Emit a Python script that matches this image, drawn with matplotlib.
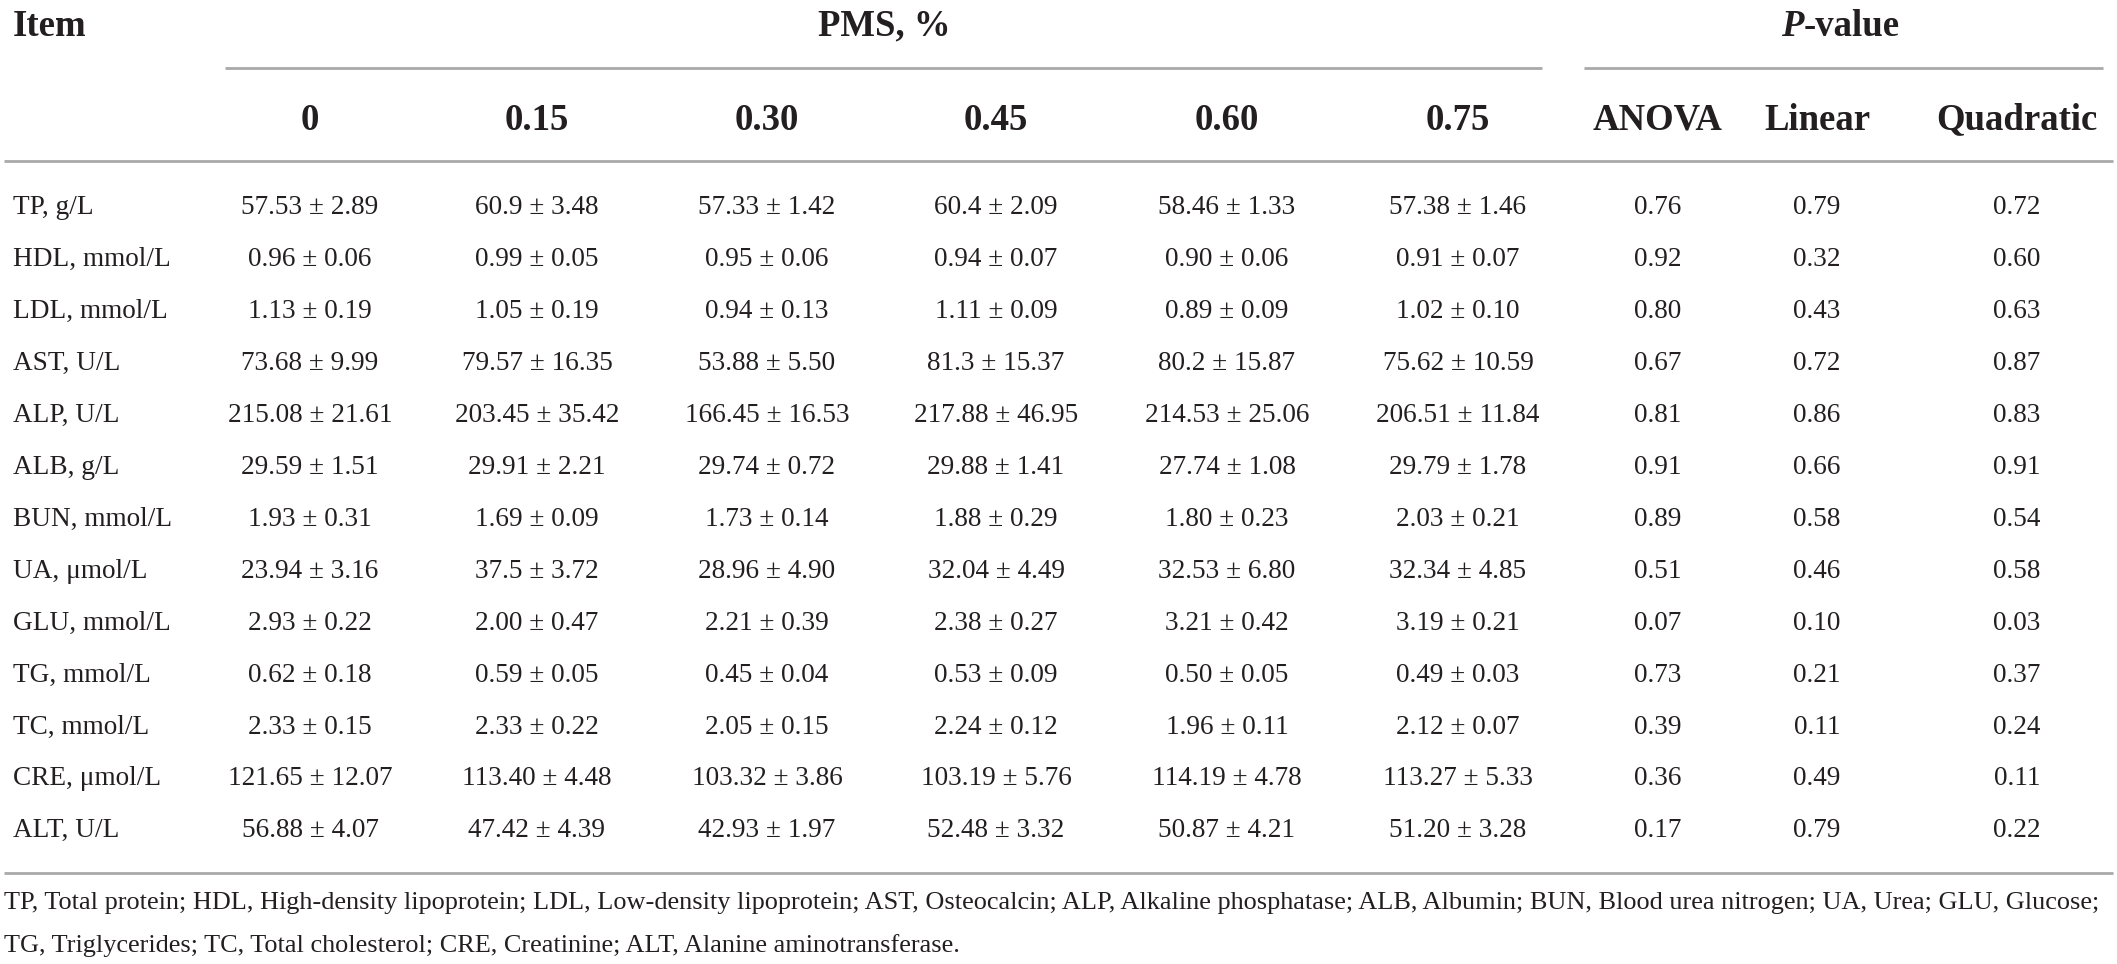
import matplotlib
matplotlib.use("Agg")
import matplotlib.pyplot as plt

# ---------------- data ----------------
items = ["TP, g/L", "HDL, mmol/L", "LDL, mmol/L", "AST, U/L", "ALP, U/L", "ALB, g/L",
         "BUN, mmol/L", "UA, \u03bcmol/L", "GLU, mmol/L", "TG, mmol/L", "TC, mmol/L",
         "CRE, \u03bcmol/L", "ALT, U/L"]
pms_levels = ["0", "0.15", "0.30", "0.45", "0.60", "0.75"]
pvalue_tests = ["ANOVA", "Linear", "Quadratic"]

mean_0    = ["57.53", "0.96", "1.13", "73.68", "215.08", "29.59", "1.93", "23.94", "2.93", "0.62", "2.33", "121.65", "56.88"]
sd_0      = ["2.89", "0.06", "0.19", "9.99", "21.61", "1.51", "0.31", "3.16", "0.22", "0.18", "0.15", "12.07", "4.07"]
mean_015  = ["60.9", "0.99", "1.05", "79.57", "203.45", "29.91", "1.69", "37.5", "2.00", "0.59", "2.33", "113.40", "47.42"]
sd_015    = ["3.48", "0.05", "0.19", "16.35", "35.42", "2.21", "0.09", "3.72", "0.47", "0.05", "0.22", "4.48", "4.39"]
mean_030  = ["57.33", "0.95", "0.94", "53.88", "166.45", "29.74", "1.73", "28.96", "2.21", "0.45", "2.05", "103.32", "42.93"]
sd_030    = ["1.42", "0.06", "0.13", "5.50", "16.53", "0.72", "0.14", "4.90", "0.39", "0.04", "0.15", "3.86", "1.97"]
mean_045  = ["60.4", "0.94", "1.11", "81.3", "217.88", "29.88", "1.88", "32.04", "2.38", "0.53", "2.24", "103.19", "52.48"]
sd_045    = ["2.09", "0.07", "0.09", "15.37", "46.95", "1.41", "0.29", "4.49", "0.27", "0.09", "0.12", "5.76", "3.32"]
mean_060  = ["58.46", "0.90", "0.89", "80.2", "214.53", "27.74", "1.80", "32.53", "3.21", "0.50", "1.96", "114.19", "50.87"]
sd_060    = ["1.33", "0.06", "0.09", "15.87", "25.06", "1.08", "0.23", "6.80", "0.42", "0.05", "0.11", "4.78", "4.21"]
mean_075  = ["57.38", "0.91", "1.02", "75.62", "206.51", "29.79", "2.03", "32.34", "3.19", "0.49", "2.12", "113.27", "51.20"]
sd_075    = ["1.46", "0.07", "0.10", "10.59", "11.84", "1.78", "0.21", "4.85", "0.21", "0.03", "0.07", "5.33", "3.28"]

p_anova     = ["0.76", "0.92", "0.80", "0.67", "0.81", "0.91", "0.89", "0.51", "0.07", "0.73", "0.39", "0.36", "0.17"]
p_linear    = ["0.79", "0.32", "0.43", "0.72", "0.86", "0.66", "0.58", "0.46", "0.10", "0.21", "0.11", "0.49", "0.79"]
p_quadratic = ["0.72", "0.60", "0.63", "0.87", "0.83", "0.91", "0.54", "0.58", "0.03", "0.37", "0.24", "0.11", "0.22"]

footnote_1 = ("TP, Total protein; HDL, High-density lipoprotein; LDL, Low-density lipoprotein; AST, Osteocalcin; "
              "ALP, Alkaline phosphatase; ALB, Albumin; BUN, Blood urea nitrogen; UA, Urea; GLU, Glucose;")
footnote_2 = "TG, Triglycerides; TC, Total cholesterol; CRE, Creatinine; ALT, Alanine aminotransferase."

means = [mean_0, mean_015, mean_030, mean_045, mean_060, mean_075]
sds = [sd_0, sd_015, sd_030, sd_045, sd_060, sd_075]
pvals = [p_anova, p_linear, p_quadratic]

# ---------------- layout ----------------
W, H = 2117, 964
FONT = "Liberation Serif"
TXT = "#231f20"
RULE = "#a9a9a9"

fig = plt.figure(figsize=(W / 100, H / 100), dpi=100)
ax = fig.add_axes([0, 0, 1, 1])
ax.set_xlim(0, W)
ax.set_ylim(H, 0)
ax.axis("off")

pms_x = [310, 537, 767, 996, 1227, 1458]
p_x = [1658, 1817, 2017]
row_y0, row_dy = 208, 51.9
head_y, sub_y = 26, 120
body_fs, head_fs = 19.6, 26.5

# header
ax.text(13, head_y, "Item", fontsize=head_fs, fontweight="bold", family=FONT,
        color=TXT, ha="left", va="center")
ax.text(884, head_y, "PMS, %", fontsize=head_fs, fontweight="bold", family=FONT,
        color=TXT, ha="center", va="center")
# P-value with italic P
fig.canvas.draw()
r = fig.canvas.get_renderer()
t_rest = ax.text(0, head_y, "-value", fontsize=head_fs, fontweight="bold", family=FONT,
                 color=TXT, ha="left", va="center")
t_p = ax.text(0, head_y, "P", fontsize=head_fs, fontweight="bold", style="italic",
              family=FONT, color=TXT, ha="left", va="center")
w_rest = t_rest.get_window_extent(r).width
w_p = t_p.get_window_extent(r).width
x0 = 1840 - (w_rest + w_p) / 2
t_p.set_x(x0)
t_rest.set_x(x0 + w_p)

ax.plot([225, 1542], [68, 68], color=RULE, lw=2, solid_capstyle="butt")
ax.plot([1584, 2103], [68, 68], color=RULE, lw=2, solid_capstyle="butt")

for lab, x in zip(pms_levels, pms_x):
    ax.text(x, sub_y, lab, fontsize=head_fs, fontweight="bold", family=FONT,
            color=TXT, ha="center", va="center")
for lab, x in zip(pvalue_tests, p_x):
    ax.text(x, sub_y, lab, fontsize=head_fs, fontweight="bold", family=FONT,
            color=TXT, ha="center", va="center")

ax.plot([4, W - 4], [161, 161], color=RULE, lw=2, solid_capstyle="butt")

# body
for i, item in enumerate(items):
    y = row_y0 + i * row_dy
    ax.text(13, y, item, fontsize=body_fs, family=FONT, color=TXT, ha="left", va="center")
    for m, s, x in zip(means, sds, pms_x):
        ax.text(x, y, f"{m[i]} \u00b1 {s[i]}", fontsize=body_fs, family=FONT,
                color=TXT, ha="center", va="center")
    for p, x in zip(pvals, p_x):
        ax.text(x, y, p[i], fontsize=body_fs, family=FONT, color=TXT,
                ha="center", va="center")

ax.plot([4, W - 4], [873, 873], color=RULE, lw=2, solid_capstyle="butt")

# footnotes, scaled to fit width
fn1 = ax.text(4, 903, footnote_1, fontsize=18, family=FONT, color=TXT, ha="left", va="center")
w1 = fn1.get_window_extent(r).width
fs_fn = 18 * 2100 / w1
fn1.set_fontsize(fs_fn)
ax.text(4, 946, footnote_2, fontsize=fs_fn, family=FONT, color=TXT, ha="left", va="center")

fig.savefig("out.png", dpi=100, facecolor="white")
